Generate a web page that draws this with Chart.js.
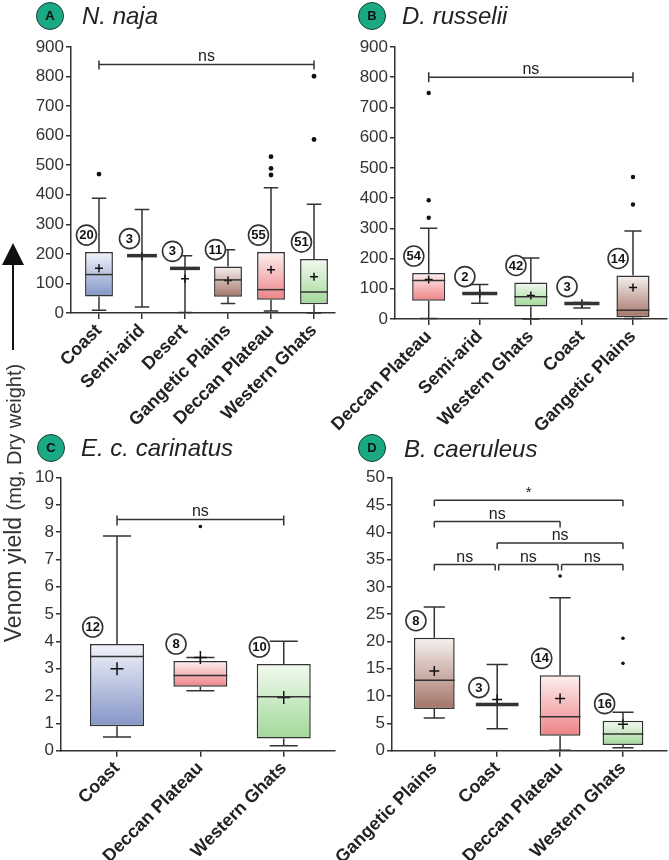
<!DOCTYPE html>
<html>
<head>
<meta charset="utf-8">
<script src="https://cdn.jsdelivr.net/npm/chart.js@4.4.1/dist/chart.umd.min.js"></script>
<style>
  body { margin: 0; background: #fff; }
  #fig { position: relative; width: 669px; height: 860px; font-family: 'Liberation Sans', Arial, sans-serif; overflow: hidden; }
  canvas { position: absolute; }
  .badge { position: absolute; width: 26px; height: 26px; border-radius: 50%; background: #1aa985; border: 1px solid #1e3a32;
           font: bold 13px 'Liberation Sans', Arial, sans-serif; text-align: center; line-height: 26px; color: #111; z-index: 2; }
  .title { position: absolute; font: italic 24px 'Liberation Sans', Arial, sans-serif; line-height: 24px; color: #222; white-space: nowrap; z-index: 2; }
  #ytitle { position: absolute; left: -137px; top: 490px; width: 300px; height: 26px; line-height: 26px; text-align: center;
            transform: rotate(-90deg); color: #333; white-space: nowrap; z-index: 2; }
  #arrowLine { position: absolute; left: 12px; top: 262px; width: 2px; height: 88px; background: #111; }
  #arrowHead { position: absolute; left: 2px; top: 243px; width: 0; height: 0; border-left: 11px solid transparent; border-right: 11px solid transparent; border-bottom: 22px solid #111; }
</style>
</head>
<body>
<div id="fig">
  <div class="badge" style="left:36px;top:2px">A</div><div class="title" style="left:82px;top:4px">N. naja</div>
  <div class="badge" style="left:358px;top:2px">B</div><div class="title" style="left:402px;top:4px">D. russelii</div>
  <div class="badge" style="left:37px;top:434px">C</div><div class="title" style="left:81px;top:436px">E. c. carinatus</div>
  <div class="badge" style="left:358px;top:434px">D</div><div class="title" style="left:404px;top:437px">B. caeruleus</div>
  <div id="arrowHead"></div><div id="arrowLine"></div>
  <div id="ytitle"><span style="font-size:23px">Venom yield </span><span style="font-size:20px">(mg, Dry weight)</span></div>
  <canvas id="cA" width="340" height="440" style="left:0;top:0"></canvas>
  <canvas id="cB" width="369" height="440" style="left:300px;top:0"></canvas>
  <canvas id="cC" width="340" height="420" style="left:0;top:440px"></canvas>
  <canvas id="cD" width="369" height="420" style="left:300px;top:440px"></canvas>
</div>
<script>
// ── data ──

// A: N. naja
const catsA = ['Coast', 'Semi-arid', 'Desert', 'Gangetic Plains', 'Deccan Plateau', 'Western Ghats'];
const nA    = [20, 3, 3, 11, 55, 51];
const loA   = [9, 20, 2, 32, 7, 0];
const q1A   = [56, 194, 151, 55, 45, 30];
const medA  = [130, 194, 151, 112, 79, 71];
const q3A   = [206, 194, 151, 157, 206, 183];
const hiA   = [388, 350, 194, 214, 424, 368];
const meanA = [151, 192, 116, 110, 146, 123];
const outA  = [[470], [], [], [], [529, 489, 467], [801, 587]];
const sigA  = [[0, 5, 'ns']];
const yTicksA = [0, 900, 100];

// B: D. russelii
const catsB = ['Deccan Plateau', 'Semi-arid', 'Western Ghats', 'Coast', 'Gangetic Plains'];
const nB    = [54, 2, 42, 3, 14];
const loB   = [2, 52, 0, 36, 2];
const q1B   = [60, 84, 41, 51, 6];
const medB  = [127, 84, 74, 51, 29];
const q3B   = [152, 84, 121, 51, 144];
const hiB   = [300, 114, 202, 55, 291];
const meanB = [131, 84, 78, 52, 104];
const outB  = [[748, 393, 335], [], [], [], [470, 379]];
const sigB  = [[0, 4, 'ns']];
const yTicksB = [0, 900, 100];

// C: E. c. carinatus
const catsC = ['Coast', 'Deccan Plateau', 'Western Ghats'];
const nC    = [12, 8, 10];
const loC   = [0.5, 2.19, 0.18];
const q1C   = [0.89, 2.34, 0.45];
const medC  = [3.45, 2.75, 1.97];
const q3C   = [3.90, 3.28, 3.17];
const hiC   = [7.85, 3.41, 4.0];
const meanC = [3.0, 3.41, 1.95];
const outC  = [[], [8.2], []];
const sigC  = [[0, 2, 'ns']];
const yTicksC = [0, 10, 1];

// D: B. caeruleus
const catsD = ['Gangetic Plains', 'Coast', 'Deccan Plateau', 'Western Ghats'];
const nD    = [8, 3, 14, 16];
const loD   = [6.0, 4.0, 0.1, 0.55];
const q1D   = [7.65, 8.44, 2.75, 1.04];
const medD  = [12.9, 8.44, 6.24, 3.06];
const q3D   = [20.7, 8.44, 13.8, 5.5];
const hiD   = [26.3, 15.8, 28.0, 7.03];
const meanD = [14.6, 9.4, 9.54, 4.83];
const outD  = [[], [], [32.0], [20.6, 16.0]];
const sigD  = [[0, 1, 'ns'], [1, 2, 'ns'], [2, 3, 'ns'], [1, 3, 'ns'], [0, 2, 'ns'], [0, 3, '*']];
const yTicksD = [0, 50, 5];

// ── styles ──
const FONT = "'Liberation Sans', Arial, sans-serif";
Chart.defaults.font.family = FONT;
Chart.defaults.color = '#333';
const INK = '#333';

// box gradient per region: [top, bottom]
const fills = {
  'Coast':           ['#f2f4fa', '#8495c7'],
  'Deccan Plateau':  ['#fdf0f0', '#ee8286'],
  'Western Ghats':   ['#f2faf0', '#a2d899'],
  'Gangetic Plains': ['#f7f1f0', '#a37467']
};

// assign bracket levels: shorter spans first, stack when overlapping
function bracketLevels(sig) {
  const order = sig.map((s, i) => i).sort((a, b) => (sig[a][1] - sig[a][0]) - (sig[b][1] - sig[b][0]));
  const lvl = [];
  order.forEach(i => {
    let l = 0;
    while (order.some(j => lvl[j] === l && sig[j][0] < sig[i][1] && sig[i][0] < sig[j][1])) l++;
    lvl[i] = l;
  });
  return lvl;
}

function boxPlugin(p) {
  const lvl = bracketLevels(p.sig);
  return {
    id: 'boxPlot',
    beforeDatasetsDraw(chart) {
      const { ctx, scales: { x, y } } = chart;
      const bars = chart.getDatasetMeta(0).data;
      ctx.save();
      ctx.strokeStyle = INK; ctx.lineWidth = 1.5;
      p.hi.forEach((hi, i) => {
        const cx = x.getPixelForValue(i + 1), cw = bars[i].width * 0.26;
        [[p.q3[i], hi], [p.q1[i], p.lo[i]]].forEach(([from, to]) => {
          const yt = y.getPixelForValue(to);
          ctx.beginPath();
          ctx.moveTo(cx, y.getPixelForValue(from)); ctx.lineTo(cx, yt);
          ctx.moveTo(cx - cw, yt); ctx.lineTo(cx + cw, yt);
          ctx.stroke();
        });
      });
      ctx.restore();
    },
    afterDatasetsDraw(chart) {
      const { ctx, scales: { x, y } } = chart;
      const bars = chart.getDatasetMeta(0).data;
      ctx.save();
      ctx.strokeStyle = INK;
      // medians (flat boxes drawn as a thick bar)
      p.med.forEach((m, i) => {
        const flat = p.q1[i] === p.q3[i];
        const cx = x.getPixelForValue(i + 1), hw = bars[i].width / 2 + (flat ? 1 : 0);
        const ym = y.getPixelForValue(m);
        ctx.lineWidth = flat ? 3.5 : 1.5;
        ctx.beginPath(); ctx.moveTo(cx - hw, ym); ctx.lineTo(cx + hw, ym); ctx.stroke();
      });
      // n labels in circles
      ctx.lineWidth = 1.6;
      ctx.textAlign = 'center'; ctx.textBaseline = 'middle';
      p.n.forEach((n, i) => {
        const cx = x.getPixelForValue(i + 1) - bars[i].width * 0.45;
        const cy = y.getPixelForValue(p.q3[i]) - 17;
        ctx.beginPath(); ctx.arc(cx, cy, 10, 0, Math.PI * 2);
        ctx.fillStyle = '#fff'; ctx.fill(); ctx.stroke();
        ctx.fillStyle = '#111'; ctx.font = 'bold 13px ' + FONT;
        ctx.fillText(String(n), cx, cy + 0.5);
      });
      // significance brackets
      ctx.lineWidth = 1.5; ctx.textBaseline = 'alphabetic'; ctx.fillStyle = '#222';
      p.sig.forEach(([a, b, lab], k) => {
        const yy = y.getPixelForValue(p.sigBase + lvl[k] * p.sigStep);
        let x1 = x.getPixelForValue(a + 1), x2 = x.getPixelForValue(b + 1);
        if (p.sig.some(([c, d], j) => j !== k && lvl[j] === lvl[k] && d === a)) x1 += 1.5;
        if (p.sig.some(([c, d], j) => j !== k && lvl[j] === lvl[k] && c === b)) x2 -= 2;
        ctx.beginPath();
        ctx.moveTo(x1, yy - p.tickUp); ctx.lineTo(x1, yy + p.tickDown);
        ctx.moveTo(x1, yy); ctx.lineTo(x2, yy);
        ctx.moveTo(x2, yy - p.tickUp); ctx.lineTo(x2, yy + p.tickDown);
        ctx.stroke();
        ctx.font = (lab === '*' ? '15px ' : '16px ') + FONT;
        ctx.fillText(lab, (x1 + x2) / 2, yy - 3);
      });
      ctx.restore();
    }
  };
}

function drawPanel(id, p) {
  new Chart(document.getElementById(id), {
    type: 'bar',
    data: {
      datasets: [
        {
          type: 'bar',
          data: p.cats.map((c, i) => ({ x: i + 1, y: [p.q1[i], p.q3[i]] })),
          backgroundColor: (c) => {
            const chart = c.chart;
            if (c.type !== 'data' || !chart.chartArea) return 'rgba(0,0,0,0)';
            const f = fills[p.cats[c.dataIndex]];
            if (!f) return 'rgba(0,0,0,0)';
            const ys = chart.scales.y;
            const t = ys.getPixelForValue(p.q3[c.dataIndex]), b = ys.getPixelForValue(p.q1[c.dataIndex]);
            if (!isFinite(t) || !isFinite(b) || t === b) return f[1];
            const g = chart.ctx.createLinearGradient(0, t, 0, b);
            g.addColorStop(0, f[0]); g.addColorStop(1, f[1]);
            return g;
          },
          borderColor: INK, borderWidth: 1.5, borderSkipped: false,
          barPercentage: 0.81, categoryPercentage: 0.8, order: 3
        },
        {
          type: 'scatter',
          data: p.mean.map((m, i) => ({ x: i + 1, y: m })),
          pointStyle: 'cross', radius: p.cross, borderColor: '#111', borderWidth: 1.5, order: 1
        },
        {
          type: 'scatter',
          data: p.out.flatMap((vs, i) => vs.map(v => ({ x: i + 1, y: v }))),
          pointStyle: 'circle', radius: p.dot, backgroundColor: '#111', borderWidth: 0, order: 2
        }
      ]
    },
    options: {
      responsive: false, animation: false,
      layout: { padding: { top: p.padTop, right: p.padRight, bottom: 0, left: 0 }, autoPadding: false },
      plugins: { legend: { display: false }, tooltip: { enabled: false } },
      scales: {
        x: {
          type: 'linear', min: p.xmin, max: p.xmax, offset: false,
          afterBuildTicks: s => { s.ticks = p.cats.map((c, i) => ({ value: i + 1 })); },
          afterFit: s => { s.height = p.xh; s.paddingLeft = 0; s.paddingRight = 0; },
          ticks: { autoSkip: false, minRotation: 45, maxRotation: 45, padding: 1, color: '#222',
                   font: { size: 18, weight: 'bold' }, callback: v => p.cats[Math.round(v) - 1] },
          grid: { offset: false, drawOnChartArea: false, tickLength: 6, color: INK, lineWidth: 1.5 },
          border: { color: INK, width: 1.5 }
        },
        y: {
          min: p.yTicks[0], max: p.yTicks[1],
          afterFit: s => { s.width = p.yw; s.paddingTop = 0; s.paddingBottom = 0; },
          ticks: { stepSize: p.yTicks[2], color: INK, font: { size: 17 }, padding: 2 },
          grid: { drawOnChartArea: false, tickLength: 5, color: INK, lineWidth: 1.5 },
          border: { color: INK, width: 1.5 }
        }
      }
    },
    plugins: [boxPlugin(p)]
  });
}

drawPanel('cA', { cats: catsA, n: nA, lo: loA, q1: q1A, med: medA, q3: q3A, hi: hiA, mean: meanA, out: outA, sig: sigA, yTicks: yTicksA,
  sigBase: 841, sigStep: 0, tickUp: 4, tickDown: 5, cross: 4, dot: 2.4,
  xmin: 0.349, xmax: 6.488, padTop: 47, padRight: 5, yw: 71, xh: 127 });

drawPanel('cB', { cats: catsB, n: nB, lo: loB, q1: q1B, med: medB, q3: q3B, hi: hiB, mean: meanB, out: outB, sig: sigB, yTicks: yTicksB,
  sigBase: 800, sigStep: 0, tickUp: 5, tickDown: 5, cross: 4, dot: 2.2,
  xmin: 0.34, xmax: 5.666, padTop: 47, padRight: 2, yw: 95, xh: 121 });

drawPanel('cC', { cats: catsC, n: nC, lo: loC, q1: q1C, med: medC, q3: q3C, hi: hiC, mean: meanC, out: outC, sig: sigC, yTicks: yTicksC,
  sigBase: 8.46, sigStep: 0, tickUp: 4, tickDown: 6, cross: 6.5, dot: 1.8,
  xmin: 0.328, xmax: 3.615, padTop: 37.3, padRight: 5, yw: 61, xh: 109.3 });

drawPanel('cD', { cats: catsD, n: nD, lo: loD, q1: q1D, med: medD, q3: q3D, hi: hiD, mean: meanD, out: outD, sig: sigD, yTicks: yTicksD,
  sigBase: 34.1, sigStep: 3.93, tickUp: 0, tickDown: 6, cross: 5, dot: 1.8,
  xmin: 0.3275, xmax: 4.70, padTop: 37.7, padRight: 2, yw: 92, xh: 109.3 });
</script>
</body>
</html>
